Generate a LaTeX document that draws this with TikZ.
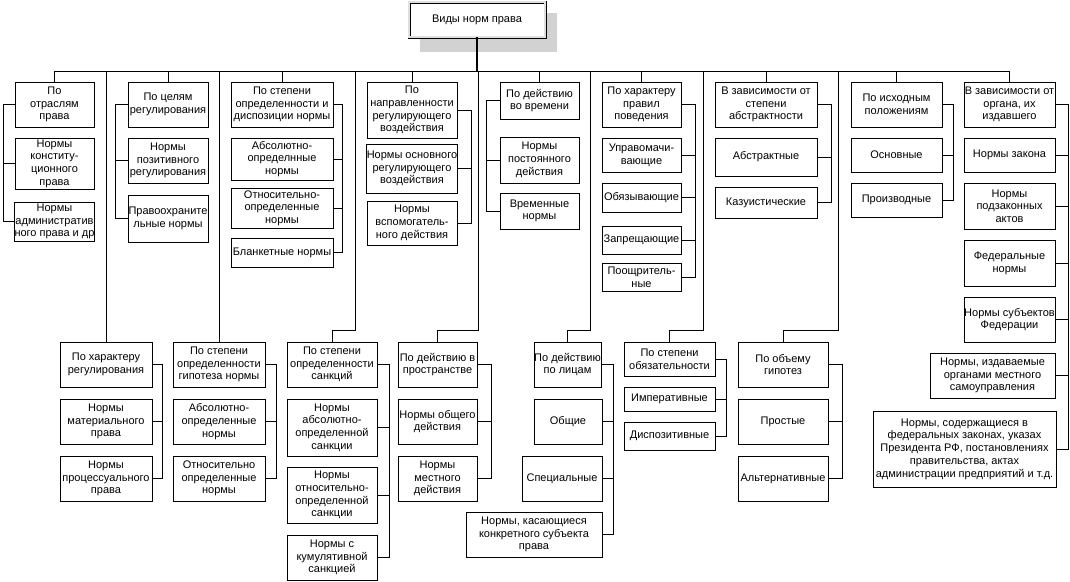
\documentclass[tikz,border=0pt]{standalone}
\usepackage{fontspec}
\setmainfont{Liberation Sans}
\begin{document}
\begin{tikzpicture}[x=1pt,y=-1pt,
  box/.style={draw=black,line width=0.9pt,fill=white,inner sep=0pt,align=center,
    font=\fontsize{11}{12.7}\selectfont},
  conn/.style={draw=black,line width=0.85pt},
  trunk/.style={draw=black,line width=2.4pt}]
\useasboundingbox (0,0) rectangle (1070,581);
\newcommand\bx[6]{\node[box,minimum width={(#4-#2)*1pt},minimum height={(#5-#3)*1pt}] (#1) at ({(#2+#4)/2},{(#3+#5)/2}) {#6};}
% shadow and title
\fill[gray!35] (420,13) rectangle (557,52);
\node[box,minimum width=136pt,minimum height=35pt,double=gray!25,double distance=1.6pt,line width=0.7pt] (top) at (477,19.5) {Виды норм права};
% column 1
\bx{b1}{15}{82}{94}{127}{По\\отраслям\\права}
\bx{b2}{15}{138}{94}{189}{Нормы\\конститу-\\ционного\\права}
\bx{b3}{15}{202}{94}{241}{Нормы\\административ\\ного права и др}
% column 2
\bx{c1}{128}{82}{208}{127}{По целям\\регулирования}
\bx{c2}{128}{138}{208}{183}{Нормы\\позитивного\\регулирования}
\bx{c3}{128}{195}{208}{242}{Правоохраните\\льные нормы}
% column 3
\bx{d1}{231}{82}{333}{127}{По степени\\определенности и\\диспозиции нормы}
\bx{d2}{231}{138}{333}{180}{Абсолютно-\\определнные\\нормы}
\bx{d3}{231}{188}{333}{228}{Относительно-\\определенные\\нормы}
\bx{d4}{231}{238}{333}{267}{Бланкетные нормы}
% column 4
\bx{e1}{367}{82}{457}{138}{По\\направленности\\регулирующего\\воздействия}
\bx{e2}{367}{144}{457}{193}{Нормы основного\\регулирующего\\воздействия}
\bx{e3}{367}{201}{457}{245}{Нормы\\вспомогатель-\\ного действия}
% column 5
\bx{f1}{500}{82}{579}{119}{По действию\\во времени}
\bx{f2}{500}{137}{579}{183}{Нормы\\постоянного\\действия}
\bx{f3}{500}{193}{579}{229}{Временные\\нормы}
% column 6
\bx{g1}{602}{82}{681}{127}{По характеру\\правил\\поведения}
\bx{g2}{602}{138}{681}{172}{Управомачи-\\вающие}
\bx{g3}{602}{183}{681}{212}{Обязывающие}
\bx{g4}{602}{226}{681}{254}{Запрещающие}
\bx{g5}{602}{263}{681}{291}{Поощритель-\\ные}
% column 7
\bx{h1}{715}{82}{817}{127}{В зависимости от\\степени\\абстрактности}
\bx{h2}{715}{138}{817}{176}{Абстрактные}
\bx{h3}{715}{187}{817}{218}{Казуистические}
% column 8
\bx{i1}{851}{82}{942}{127}{По исходным\\положениям}
\bx{i2}{851}{138}{942}{172}{Основные}
\bx{i3}{851}{183}{942}{217}{Производные}
% column 9
\bx{j1}{964}{82}{1055}{127}{В зависимости от\\органа, их\\издавшего}
\bx{j2}{964}{138}{1055}{172}{Нормы закона}
\bx{j3}{964}{183}{1055}{229}{Нормы\\подзаконных\\актов}
\bx{j4}{964}{240}{1055}{286}{Федеральные\\нормы}
\bx{j5}{964}{297}{1055}{342}{Нормы субъектов\\Федерации}
\bx{j6}{930}{353}{1055}{398}{Нормы, издаваемые\\органами местного\\самоуправления}
\bx{j7}{873}{411}{1056}{487}{Нормы, содержащиеся в\\федеральных законах, указах\\Президента РФ, постановлениях\\правительства, актах\\администрации предприятий и т.д.}
% lower groups
\bx{k1}{60}{342}{152}{387}{По характеру\\регулирования}
\bx{k2}{60}{399}{152}{444}{Нормы\\материального\\права}
\bx{k3}{60}{456}{152}{501}{Нормы\\процессуального\\права}
\bx{l1}{173}{342}{265}{387}{По степени\\определенности\\гипотеза нормы}
\bx{l2}{173}{399}{265}{444}{Абсолютно-\\определенные\\нормы}
\bx{l3}{173}{456}{265}{501}{Относительно\\определенные\\нормы}
\bx{m1}{287}{342}{377}{387}{По степени\\определенности\\санкций}
\bx{m2}{287}{399}{377}{456}{Нормы\\абсолютно-\\определенной\\санкции}
\bx{m3}{287}{467}{377}{523}{Нормы\\относительно-\\определенной\\санкции}
\bx{m4}{287}{535}{377}{580}{Нормы с\\кумулятивной\\санкцией}
\bx{n1}{398}{342}{477}{387}{По действию в\\пространстве}
\bx{n2}{398}{399}{477}{444}{Нормы общего\\действия}
\bx{n3}{398}{456}{477}{501}{Нормы\\местного\\действия}
\bx{o1}{534}{342}{601}{387}{По действию\\по лицам}
\bx{o2}{534}{399}{602}{444}{Общие}
\bx{o3}{522}{456}{602}{501}{Специальные}
\bx{o4}{466}{512}{602}{557}{Нормы, касающиеся\\конкретного субъекта\\права}
\bx{p1}{624}{342}{715}{376}{По степени\\обязательности}
\bx{p2}{624}{387}{715}{411}{Императивные}
\bx{p3}{624}{422}{715}{450}{Диспозитивные}
\bx{q1}{738}{342}{828}{387}{По объему\\гипотез}
\bx{q2}{738}{399}{828}{444}{Простые}
\bx{q3}{738}{456}{828}{501}{Альтернативные}
% coordinates
\coordinate (bus) at (0,71);
\coordinate (xb) at (3,0);
\coordinate (xc) at (115,0);
\coordinate (xd) at (342,0);
\coordinate (xe) at (471,0);
\coordinate (xf) at (486,0);
\coordinate (xg) at (695,0);
\coordinate (xh) at (831,0);
\coordinate (xi) at (953,0);
\coordinate (xj) at (1068,0);
\coordinate (xk) at (162,0);
\coordinate (xl) at (276,0);
\coordinate (xm) at (389,0);
\coordinate (xn) at (491,0);
\coordinate (xo) at (613,0);
\coordinate (xp) at (726,0);
\coordinate (xq) at (842,0);
\coordinate (vm) at (355,330);
\coordinate (vn) at (478,330);
\coordinate (vo) at (590,330);
\coordinate (vp) at (703,330);
\coordinate (vq) at (838,330);
% trunk and bus
\draw[trunk] (top.south) -- (top.south |- bus);
\draw[conn] (b1.north |- bus) -- (j1.north |- bus);
\foreach \n in {b1,c1,d1,e1,f1,g1,h1,i1,j1,k1,l1}
  \draw[conn] (\n.north) -- (\n.north |- bus);
\foreach \v/\n in {vm/m1,vn/n1,vo/o1,vp/p1,vq/q1}
  \draw[conn] (\v |- bus) -- (\v) -| (\n.north);
% left brackets
\draw[conn] (b1.west) -- (b1.west -| xb) |- (b3.west);
\draw[conn] (b2.west) -- (b2.west -| xb);
\draw[conn] (c1.west) -- (c1.west -| xc) |- (c3.west);
\draw[conn] (c2.west) -- (c2.west -| xc);
\draw[conn] (f1.west) -- (f1.west -| xf) |- (f3.west);
\draw[conn] (f2.west) -- (f2.west -| xf);
% right brackets
\draw[conn] (d1.east) -- (d1.east -| xd) |- (d4.east);
\foreach \n in {d2,d3} \draw[conn] (\n.east) -- (\n.east -| xd);
\draw[conn] (e1.east) -- (e1.east -| xe) |- (e3.east);
\draw[conn] (e2.east) -- (e2.east -| xe);
\draw[conn] (g1.east) -- (g1.east -| xg) |- (g5.east);
\foreach \n in {g2,g3,g4} \draw[conn] (\n.east) -- (\n.east -| xg);
\draw[conn] (h1.east) -- (h1.east -| xh) |- (h3.east);
\draw[conn] (h2.east) -- (h2.east -| xh);
\draw[conn] (i1.east) -- (i1.east -| xi) |- (i3.east);
\draw[conn] (i2.east) -- (i2.east -| xi);
\draw[conn] (j1.east) -- (j1.east -| xj) |- (j7.east);
\foreach \n in {j2,j3,j4,j5,j6} \draw[conn] (\n.east) -- (\n.east -| xj);
\draw[conn] (k1.east) -- (k1.east -| xk) |- (k3.east);
\draw[conn] (k2.east) -- (k2.east -| xk);
\draw[conn] (l1.east) -- (l1.east -| xl) |- (l3.east);
\draw[conn] (l2.east) -- (l2.east -| xl);
\draw[conn] (m1.east) -- (m1.east -| xm) |- (m4.east);
\foreach \n in {m2,m3} \draw[conn] (\n.east) -- (\n.east -| xm);
\draw[conn] (n1.east) -- (n1.east -| xn) |- (n3.east);
\draw[conn] (n2.east) -- (n2.east -| xn);
\draw[conn] (o1.east) -- (o1.east -| xo) |- (o4.east);
\foreach \n in {o2,o3} \draw[conn] (\n.east) -- (\n.east -| xo);
\draw[conn] (p1.east) -- (p1.east -| xp) |- (p3.east);
\draw[conn] (p2.east) -- (p2.east -| xp);
\draw[conn] (q1.east) -- (q1.east -| xq) |- (q3.east);
\draw[conn] (q2.east) -- (q2.east -| xq);
\end{tikzpicture}
\end{document}
